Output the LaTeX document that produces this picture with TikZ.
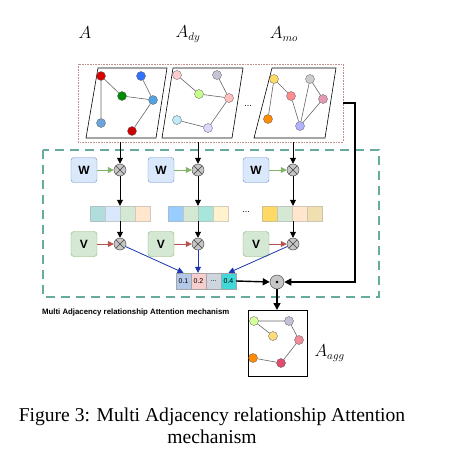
\documentclass[tikz,border=0pt]{standalone}
\usepackage{fontspec}
\setmainfont{Liberation Serif}
\newfontfamily\labelsans{Liberation Sans}
\usetikzlibrary{arrows.meta,calc,shapes.misc}
\definecolor{wfill}{HTML}{DAE8FC}\definecolor{wdraw}{HTML}{6C8EBF}
\definecolor{vfill}{HTML}{D5E8D4}\definecolor{vdraw}{HTML}{82B366}
\definecolor{redarr}{HTML}{B85450}
\definecolor{teal}{HTML}{67AB9F}
\definecolor{dotred}{HTML}{C09090}
\definecolor{blarrow}{HTML}{1A35B0}
\tikzset{
  gn/.style={circle,draw=gray!70!black,line width=0.3pt,minimum size=9pt,inner sep=0pt,fill=#1},
  ge/.style={draw=gray!80!black,line width=0.6pt},
  wbox/.style={draw=wdraw,fill=wfill,rounded corners=3pt,minimum width=26pt,minimum height=25pt,inner sep=0pt,font=\labelsans\bfseries\fontsize{12}{12}\selectfont},
  vbox/.style={draw=vdraw,fill=vfill,rounded corners=3pt,minimum width=26pt,minimum height=25pt,inner sep=0pt,font=\labelsans\bfseries\fontsize{12}{12}\selectfont},
  otim/.style={circle,draw=gray!60!black,fill=gray!45,minimum size=12pt,inner sep=0pt,line width=0.5pt,path picture={\draw[black!75,line width=0.6pt] (path picture bounding box.north west)--(path picture bounding box.south east) (path picture bounding box.north east)--(path picture bounding box.south west);}},
  cell/.style={draw=#1!70!black!60,fill=#1,minimum width=15pt,minimum height=15pt,inner sep=0pt,line width=0.4pt},
  acell/.style={draw=gray!70,fill=#1,minimum width=15pt,minimum height=16pt,inner sep=0pt,line width=0.4pt,font=\labelsans\fontsize{7}{7}\selectfont},
  darr/.style={-{Triangle[length=6pt,width=6pt]},line width=0.8pt},
  marr/.style={-{Triangle[length=7pt,width=7pt]},line width=1.4pt},
  lab/.style={font=\fontsize{16}{16}\selectfont},
}
\definecolor{c1}{HTML}{B1DDDD}\definecolor{c2}{HTML}{DAE8FC}\definecolor{c3}{HTML}{D5E8D4}\definecolor{c4}{HTML}{FFE6CC}
\definecolor{d1}{HTML}{99CCFF}\definecolor{d2}{HTML}{D5E8D4}\definecolor{d3}{HTML}{A8E6DC}\definecolor{d4}{HTML}{FFF2CC}
\definecolor{e1}{HTML}{FFD966}\definecolor{e2}{HTML}{D5E8D4}\definecolor{e3}{HTML}{FFE6CC}\definecolor{e4}{HTML}{F0E0B0}
\definecolor{a1}{HTML}{B4C8EA}\definecolor{a2}{HTML}{F8CECC}\definecolor{a3}{HTML}{CDD6DE}\definecolor{a4}{HTML}{40D8D8}
\begin{document}
\begin{tikzpicture}[x=1pt,y=-1pt]
\useasboundingbox (0,0) rectangle (451,469);
% labels
\node[lab] (lA) at (85,33) {$A$};
\node[lab] (lAdy) at (188,34) {$A_{dy}$};
\node[lab] (lAmo) at (284,34) {$A_{mo}$};
% dotted box
\draw[dotred,densely dotted,line width=0.6pt] (78,64) rectangle (343,142);
\coordinate (boxR) at (343,103);
% parallelograms
\draw[line width=0.6pt] (98,68)--(167,68)--(156,138)--(86,138)--cycle;
\draw[line width=0.6pt] (173,68)--(243,68)--(232,138)--(162,138)--cycle;
\draw[line width=0.6pt] (272,68)--(336,68)--(325,138)--(254,138)--cycle;
\node[font=\labelsans\fontsize{9}{9}\selectfont] (dots1) at (248,106) {...};
% graph 1
\node[gn=red!85!black] (g1a) at (101,76) {};
\node[gn=blue!70!cyan!80] (g1b) at (141,76) {};
\node[gn=green!55!black] (g1c) at (122,96) {};
\node[gn=cyan!70!blue!70] (g1d) at (153,100) {};
\node[gn=cyan!60!blue!60] (g1e) at (101,123) {};
\node[gn=red!80!black] (g1f) at (132,131) {};
\draw[ge] (g1a)--(g1c) (g1a)--(g1e) (g1c)--(g1d) (g1b)--(g1d) (g1d)--(g1f);
% graph 2
\node[gn=red!20] (g2a) at (177,75) {};
\node[gn=blue!15!gray!40] (g2b) at (217,75) {};
\node[gn=green!50!yellow!45] (g2c) at (199,94) {};
\node[gn=red!25] (g2d) at (229,98) {};
\node[gn=cyan!25] (g2e) at (177,120) {};
\node[gn=blue!15] (g2f) at (208,128) {};
\draw[ge] (g2a)--(g2c) (g2c)--(g2d) (g2b)--(g2d) (g2d)--(g2f) (g2e)--(g2f);
% graph 3
\node[gn=yellow!60!orange!60] (g3a) at (274,79) {};
\node[gn=gray!40] (g3b) at (310,79) {};
\node[gn=red!45] (g3c) at (291,96) {};
\node[gn=purple!40] (g3d) at (323,99) {};
\node[gn=orange!90!yellow] (g3e) at (268,119) {};
\node[gn=blue!30] (g3f) at (300,126) {};
\draw[ge] (g3a)--(g3e) (g3a)--(g3c) (g3c)--(g3f) (g3b)--(g3f) (g3b)--(g3d) (g3d)--(g3f);
% teal dashed box
\draw[teal,dash pattern=on 9pt off 6pt,line width=1.1pt] (43,150) rectangle (379,297);
% columns
\foreach \i/\cx/\wx in {1/120/84, 2/198/161, 3/293/256}{
  \node[wbox] (W\i) at (\wx,170) {W};
  \node[otim] (ow\i) at (\cx,170) {};
  \node[vbox] (V\i) at (\wx,244) {V};
  \node[otim] (ov\i) at (\cx,244) {};
  \coordinate (top\i) at (\cx,142);
  \draw[darr] (top\i)--(ow\i);
  \draw[darr,vdraw] (W\i)--(ow\i);
  \draw[darr,redarr] (V\i)--(ov\i);
}
% vectors
\foreach \k/\c in {1/c1,2/c2,3/c3,4/c4}{\node[cell=\c] (v1\k) at ({90+7.5+15*(\k-1)},213.5) {};}
\foreach \k/\c in {1/d1,2/d2,3/d3,4/d4}{\node[cell=\c] (v2\k) at ({168+7.5+15*(\k-1)},213.5) {};}
\foreach \k/\c in {1/e1,2/e2,3/e3,4/e4}{\node[cell=\c] (v3\k) at ({262+7.5+15*(\k-1)},213.5) {};}
\node[font=\labelsans\fontsize{9}{9}\selectfont] (dots2) at (246,212) {...};
\draw[darr] (ow1)--(ow1|-v11.north);
\draw[darr] (ow2)--(ow2|-v22.north);
\draw[darr] (ow3)--(ow3|-v32.north);
\draw[darr] (ow1|-v11.south)--(ov1);
\draw[darr] (ow2|-v22.south)--(ov2);
\draw[darr] (ow3|-v32.south)--(ov3);
% attention vector
\node[acell=a1] (at1) at (183.5,281) {0.1};
\node[acell=a2] (at2) at (198.5,281) {0.2};
\node[acell=a3] (at3) at (213.5,281) {...};
\node[acell=a4] (at4) at (228.5,281) {0.4};
\draw[darr,blarrow] (ov1)--(at1.north);
\draw[darr,blarrow] (ov2)--(ov2|-at2.north);
\draw[darr,blarrow] (ov3)--(at4.north);
% odot
\node[circle,draw=gray!60!black,fill=gray!45,minimum size=14pt,inner sep=0pt,line width=0.5pt] (od) at (277,282) {};
\fill (od.center) circle (1.3pt);
\draw[marr] (at4.east)--(od.west);
\draw[marr] (boxR)--(355,103)--(355,282)--(od.east);
% text
\node[anchor=west,font=\labelsans\bfseries\fontsize{7.8}{7.8}\selectfont,inner sep=0pt] (mtxt) at (42,312) {Multi Adjacency relationship Attention mechanism};
% A_agg
\draw[line width=0.6pt] (248,310) rectangle (307,376);
\coordinate (aggtop) at (277,310);
\draw[marr] (od.south)--(aggtop);
\node[gn=green!40!yellow!40] (h1) at (254,321) {};
\node[gn=blue!20!gray!40] (h2) at (289,321) {};
\node[gn=yellow!50!orange!50] (h3) at (273,336) {};
\node[gn=purple!45!red!45] (h4) at (299,340) {};
\node[gn=orange!90!yellow] (h5) at (253,358) {};
\node[gn=purple!70!red!70] (h6) at (281,363) {};
\draw[ge] (h1)--(h2) (h1)--(h3) (h2)--(h4) (h4)--(h6) (h5)--(h6);
\node[lab,anchor=west] (lagg) at (311,353) {$A_{agg}$};
% caption
\node[font=\fontsize{19.6}{21.5}\selectfont,align=center] (cap) at (212,426) {Figure 3: Multi Adjacency relationship Attention\\mechanism};
\end{tikzpicture}
\end{document}
